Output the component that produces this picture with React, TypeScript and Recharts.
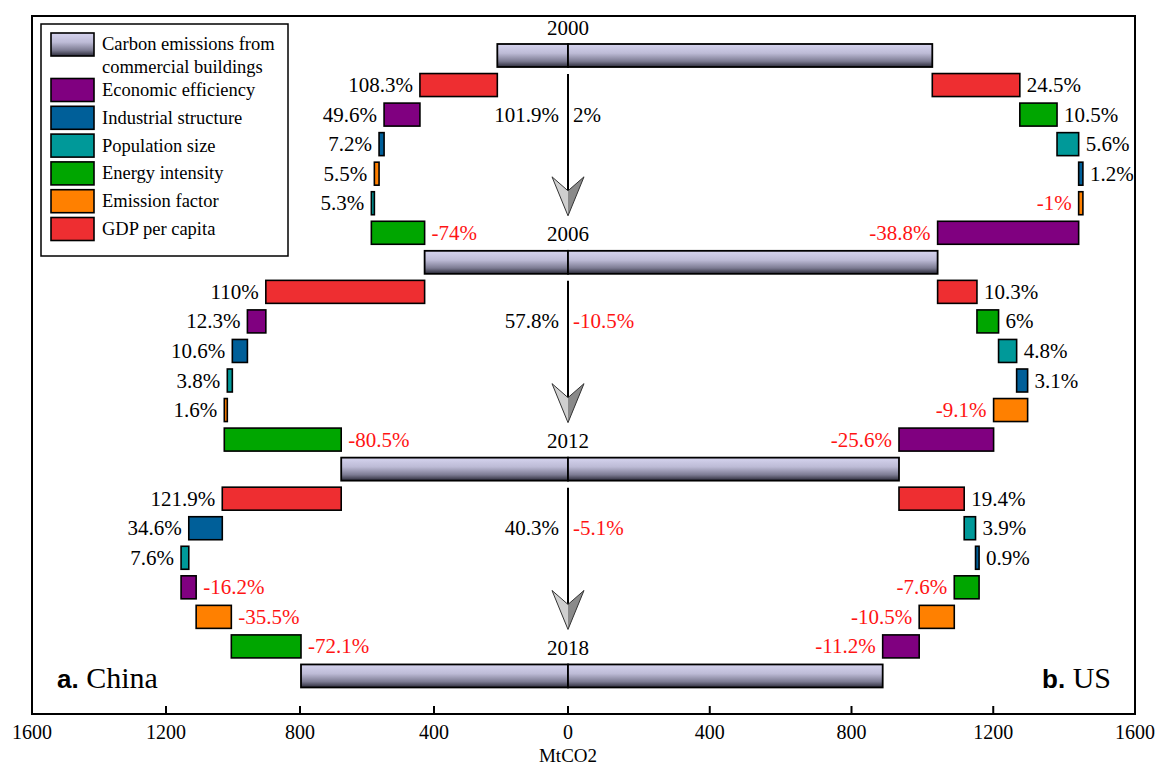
import { BarChart, Bar, XAxis, YAxis } from 'recharts'

const W = 1159
const H = 767
const PLOT_TOP = 16
const AXIS_Y = 714
const ZERO_X = 568
const LEFT_X = 32
const RIGHT_X = 1135
const PAD_TOP = 25
const PAD_BOTTOM = 23

const SERIF = '"Liberation Serif", "Times New Roman", serif'
const SANS = '"Liberation Sans", Arial, sans-serif'
const RED = '#ff1414'

const years = ['2000', '2006', '2012', '2018']
const chinaTotals = [211, 428, 677, 797]
const usTotals = [1028, 1043, 934, 888]
const chinaGrowth = ['101.9%', '57.8%', '40.3%']
const usGrowth = ['2%', '-10.5%', '-5.1%']

const chinaFactors = [
  'GDP per capita', 'Economic efficiency', 'Industrial structure', 'Emission factor', 'Population size', 'Energy intensity',
  'GDP per capita', 'Economic efficiency', 'Industrial structure', 'Population size', 'Emission factor', 'Energy intensity',
  'GDP per capita', 'Industrial structure', 'Population size', 'Economic efficiency', 'Emission factor', 'Energy intensity',
]
const chinaFrom = [211, 442, 549, 564, 578, 587, 428, 902, 957, 1002, 1017, 1026, 677, 1032, 1132, 1155, 1110, 1005]
const chinaTo = [442, 549, 564, 578, 587, 428, 902, 957, 1002, 1017, 1026, 677, 1032, 1132, 1155, 1110, 1005, 797]
const chinaPct = ['108.3%', '49.6%', '7.2%', '5.5%', '5.3%', '-74%', '110%', '12.3%', '10.6%', '3.8%', '1.6%', '-80.5%', '121.9%', '34.6%', '7.6%', '-16.2%', '-35.5%', '-72.1%']

const usFactors = [
  'GDP per capita', 'Energy intensity', 'Population size', 'Industrial structure', 'Emission factor', 'Economic efficiency',
  'GDP per capita', 'Energy intensity', 'Population size', 'Industrial structure', 'Emission factor', 'Economic efficiency',
  'GDP per capita', 'Population size', 'Industrial structure', 'Energy intensity', 'Emission factor', 'Economic efficiency',
]
const usFrom = [1028, 1275, 1380, 1441, 1453, 1441, 1043, 1154, 1215, 1266, 1297, 1201, 934, 1118, 1150, 1160, 1090, 991]
const usTo = [1275, 1380, 1441, 1453, 1441, 1043, 1154, 1215, 1266, 1297, 1201, 934, 1118, 1150, 1160, 1090, 991, 888]
const usPct = ['24.5%', '10.5%', '5.6%', '1.2%', '-1%', '-38.8%', '10.3%', '6%', '4.8%', '3.1%', '-9.1%', '-25.6%', '19.4%', '3.9%', '0.9%', '-7.6%', '-10.5%', '-11.2%']

const leftTicks = [0, 400, 800, 1200, 1600]
const rightTicks = [400, 800, 1200, 1600]

const legendItems = ['Economic efficiency', 'Industrial structure', 'Population size', 'Energy intensity', 'Emission factor', 'GDP per capita']
const factorColors: Record<string, string> = {
  'Economic efficiency': '#800080',
  'Industrial structure': '#005f99',
  'Population size': '#009999',
  'Energy intensity': '#00a600',
  'Emission factor': '#ff8000',
  'GDP per capita': '#ee2e31',
}

function buildRows(totals: number[], factors: string[], from: number[], to: number[], pct: string[]) {
  const rows: any[] = []
  totals.forEach((t, p) => {
    rows.push({ id: `t${p}`, kind: 'total', range: [0, t], year: years[p], growthL: chinaGrowth[p], growthR: usGrowth[p] })
    if (p < totals.length - 1) {
      for (let k = 0; k < 6; k++) {
        const i = p * 6 + k
        rows.push({ id: `s${i}`, kind: factors[i], range: [Math.min(from[i], to[i]), Math.max(from[i], to[i])], pct: pct[i] })
      }
    }
  })
  return rows
}

const chinaRows = buildRows(chinaTotals, chinaFactors, chinaFrom, chinaTo, chinaPct)
const usRows = buildRows(usTotals, usFactors, usFrom, usTo, usPct)
const BAND = (AXIS_Y - PLOT_TOP - PAD_TOP - PAD_BOTTOM) / chinaRows.length

const Gradient = ({ id }: { id: string }) => (
  <defs>
    <linearGradient id={id} x1="0" y1="0" x2="0" y2="1">
      <stop offset="0%" stopColor="#d6d4ef" />
      <stop offset="40%" stopColor="#bdbbd6" />
      <stop offset="75%" stopColor="#7c7b92" />
      <stop offset="100%" stopColor="#2a2a38" />
    </linearGradient>
  </defs>
)

const pctColor = (s: string) => (s.startsWith('-') ? RED : '#000')

function makeShape(side: 'left' | 'right', gradId: string) {
  return (props: any) => {
    const { x, y, width, height, payload } = props
    const x0 = Math.min(x, x + width)
    const w = Math.abs(width)
    const cy = y + height / 2
    if (payload.kind === 'total') {
      const tip = y + 7 * BAND - 35
      return (
        <g>
          <rect x={x0} y={y} width={w} height={height} fill={`url(#${gradId})`} stroke="#000" strokeWidth={1.8} />
          {side === 'right' && (
            <g>
              <text x={x0} y={cy - 21} textAnchor="middle" fontFamily={SERIF} fontSize={21} fill="#000">{payload.year}</text>
              {payload.growthL && (
                <g>
                  <line x1={x0} x2={x0} y1={y + height + 7} y2={tip - 25} stroke="#000" strokeWidth={2} />
                  <path d={`M${x0},${tip} L${x0 - 16},${tip - 39} L${x0},${tip - 25} Z`} fill="#cfcfcf" />
                  <path d={`M${x0},${tip} L${x0 + 16},${tip - 39} L${x0},${tip - 25} Z`} fill="#8a8a8a" />
                  <path d={`M${x0},${tip} L${x0 - 16},${tip - 39} L${x0},${tip - 25} L${x0 + 16},${tip - 39} Z`} fill="none" stroke="#333" strokeWidth={1} />
                  <text x={x0 - 9} y={cy + 2 * BAND + 7} textAnchor="end" fontFamily={SERIF} fontSize={21} fill={pctColor(payload.growthL)}>{payload.growthL}</text>
                  <text x={x0 + 5} y={cy + 2 * BAND + 7} textAnchor="start" fontFamily={SERIF} fontSize={21} fill={pctColor(payload.growthR)}>{payload.growthR}</text>
                </g>
              )}
            </g>
          )}
        </g>
      )
    }
    const neg = payload.pct.startsWith('-')
    const onLeft = side === 'left' ? !neg : neg
    return (
      <g>
        <rect x={x0} y={y} width={w} height={height} fill={factorColors[payload.kind]} stroke="#000" strokeWidth={1.6} />
        <text
          x={onLeft ? x0 - 7 : x0 + w + 7}
          y={cy + 7}
          textAnchor={onLeft ? 'end' : 'start'}
          fontFamily={SERIF}
          fontSize={21}
          fill={pctColor(payload.pct)}
        >
          {payload.pct}
        </text>
      </g>
    )
  }
}

const leftShape = makeShape('left', 'gradL')
const rightShape = makeShape('right', 'gradR')

const AXIS_TICK = { fill: '#000', fontSize: 20, fontFamily: SERIF }
const TICK_LINE = { stroke: '#000', strokeWidth: 2 }

export default function App() {
  return (
    <div style={{ position: 'absolute', left: 0, top: 0, width: W, height: H, background: '#fff' }}>
      <div
        style={{
          position: 'absolute', left: LEFT_X - 1, top: PLOT_TOP - 1,
          width: RIGHT_X - LEFT_X + 2, height: AXIS_Y - PLOT_TOP + 2,
          border: '2px solid #000', boxSizing: 'border-box',
        }}
      />
      <BarChart
        width={W}
        height={H}
        data={chinaRows}
        layout="vertical"
        barSize={23}
        margin={{ top: PLOT_TOP, right: W - ZERO_X, bottom: 0, left: LEFT_X }}
        style={{ position: 'absolute', left: 0, top: 0 }}
      >
        <Gradient id="gradL" />
        <XAxis
          type="number"
          domain={[0, 1600]}
          reversed
          ticks={leftTicks}
          interval={0}
          height={H - AXIS_Y}
          axisLine={false}
          tickLine={TICK_LINE}
          tickSize={-8}
          tickMargin={19}
          tick={AXIS_TICK}
        />
        <YAxis type="category" dataKey="id" hide width={0} padding={{ top: PAD_TOP, bottom: PAD_BOTTOM }} />
        <Bar dataKey="range" shape={leftShape} isAnimationActive={false} />
      </BarChart>
      <BarChart
        width={W}
        height={H}
        data={usRows}
        layout="vertical"
        barSize={23}
        margin={{ top: PLOT_TOP, right: W - RIGHT_X, bottom: 0, left: ZERO_X }}
        style={{ position: 'absolute', left: 0, top: 0 }}
      >
        <Gradient id="gradR" />
        <XAxis
          type="number"
          domain={[0, 1600]}
          ticks={rightTicks}
          interval={0}
          height={H - AXIS_Y}
          axisLine={false}
          tickLine={TICK_LINE}
          tickSize={-8}
          tickMargin={19}
          tick={AXIS_TICK}
        />
        <YAxis type="category" dataKey="id" hide width={0} padding={{ top: PAD_TOP, bottom: PAD_BOTTOM }} />
        <Bar dataKey="range" shape={rightShape} isAnimationActive={false} />
      </BarChart>
      <svg width={W} height={H} style={{ position: 'absolute', left: 0, top: 0, pointerEvents: 'none' }}>
        <defs>
          <linearGradient id="gradLegend" x1="0" y1="0" x2="0" y2="1">
            <stop offset="0%" stopColor="#d6d4ef" />
            <stop offset="40%" stopColor="#bdbbd6" />
            <stop offset="75%" stopColor="#7c7b92" />
            <stop offset="100%" stopColor="#2a2a38" />
          </linearGradient>
        </defs>
        <rect x={41} y={24} width={247} height={232} fill="#fff" stroke="#000" strokeWidth={1.5} />
        <rect x={51} y={33} width={43} height={23} fill="url(#gradLegend)" stroke="#000" strokeWidth={1.6} />
        <text x={102} y={50} fontFamily={SERIF} fontSize={18.5} fill="#000">Carbon emissions from</text>
        <text x={102} y={73} fontFamily={SERIF} fontSize={18.5} fill="#000">commercial buildings</text>
        {legendItems.map((name, i) => {
          const cy = 90 + i * 27.8
          return (
            <g key={name}>
              <rect x={51} y={cy - 11.5} width={43} height={23} fill={factorColors[name]} stroke="#000" strokeWidth={1.6} />
              <text x={102} y={cy + 6} fontFamily={SERIF} fontSize={18.5} fill="#000">{name}</text>
            </g>
          )
        })}
        <text x={57} y={688}>
          <tspan fontFamily={SANS} fontWeight="bold" fontSize={26}>a.</tspan>
          <tspan fontFamily={SERIF} fontSize={30}> China</tspan>
        </text>
        <text x={1111} y={688} textAnchor="end">
          <tspan fontFamily={SANS} fontWeight="bold" fontSize={26}>b.</tspan>
          <tspan fontFamily={SERIF} fontSize={30}> US</tspan>
        </text>
        <text x={ZERO_X} y={762} textAnchor="middle" fontFamily={SERIF} fontSize={19} fill="#000">MtCO2</text>
      </svg>
    </div>
  )
}
